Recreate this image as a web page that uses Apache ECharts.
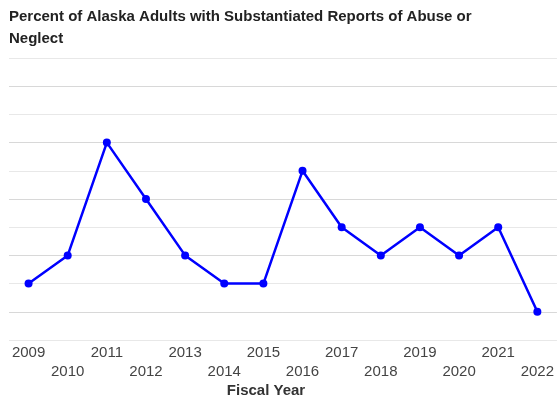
<!DOCTYPE html>
<html><head><meta charset="utf-8">
<script src="https://cdn.jsdelivr.net/npm/echarts@6/dist/echarts.min.js"></script>
<style>html,body{margin:0;padding:0;background:#fff}#c{width:557px;height:400px}</style>
</head><body><div id="c"></div>
<script>
var years = ['2009','2010','2011','2012','2013','2014','2015','2016','2017','2018','2019','2020','2021','2022'];
var percentAbused = [2, 3, 7, 5, 3, 2, 2, 6, 4, 3, 4, 3, 4, 1];
var yMin = 0, yMax = 10, yStep = 1;
var chartTitle = 'Percent of Alaska Adults with Substantiated Reports of Abuse or\nNeglect';
var xAxisTitle = 'Fiscal Year';

var chart = echarts.init(document.getElementById('c'), null, {renderer: 'canvas'});
chart.setOption({
  animation: false,
  backgroundColor: '#fff',
  title: [{
    text: chartTitle, left: 9, top: 6, padding: 0,
    textStyle: {fontFamily: 'Liberation Sans, Arial', fontSize: 15, fontWeight: 'bold', color: '#222', lineHeight: 22}
  }, {
    text: xAxisTitle, left: 266, top: 383, textAlign: 'center', padding: 0,
    textStyle: {fontFamily: 'Liberation Sans, Arial', fontSize: 15, fontWeight: 'bold', color: '#333'}
  }],
  grid: {left: 9, right: -1, top: 58, bottom: 60, containLabel: false},
  xAxis: {
    type: 'category', data: years, boundaryGap: true,
    axisLine: {show: false}, axisTick: {show: false},
    axisLabel: {
      interval: 0, margin: 3, color: '#444', fontSize: 15, fontFamily: 'Liberation Sans, Arial', lineHeight: 19,
      formatter: function (v, i) { return i % 2 ? '\n' + v : v; },
      verticalAlign: 'top'
    }
  },
  yAxis: {
    type: 'value', min: yMin, max: yMax, interval: yStep,
    axisLabel: {show: false}, axisLine: {show: false}, axisTick: {show: false},
    splitLine: {lineStyle: {color: ['#e8e8e8', '#d8d8d8'], width: 1}}
  },
  series: [{
    type: 'line', data: percentAbused,
    symbol: 'circle', symbolSize: 8,
    lineStyle: {color: '#0000ff', width: 2.5},
    itemStyle: {color: '#0000ff'}
  }]
});
</script></body></html>
